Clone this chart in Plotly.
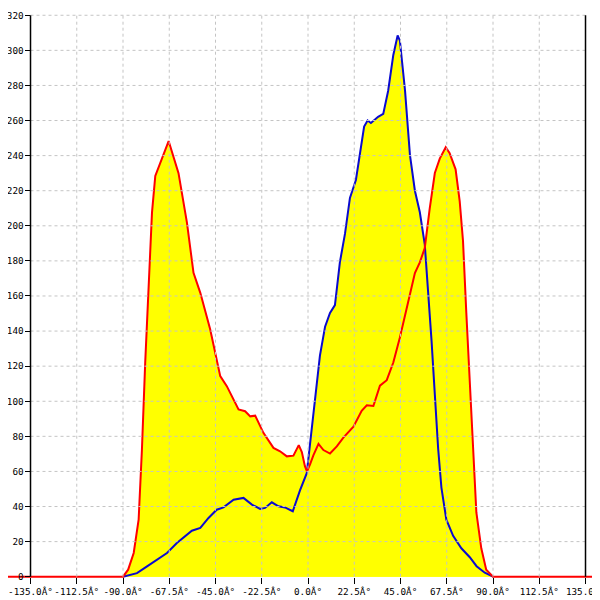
import plotly.graph_objects as go

# x ticks are degrees, labels keep the odd encoding seen on the chart
x_ticks = [-135, -112.5, -90, -67.5, -45, -22.5, 0, 22.5, 45, 67.5, 90, 112.5, 135]
x_labels = [f"{v:.1f}Â°" for v in x_ticks]
y_ticks = list(range(0, 321, 20))

red_x = [-150, -135, -90, -87.5, -84.8, -82.4, -80.8, -79.2, -77.5, -75.9, -74.3, -71.9,
         -67.8, -63, -58.9, -55.7, -52.4, -47.6, -42.7, -39.5, -33.8, -30.6, -28.1,
         -25.7, -21.7, -16.8, -13.6, -10.3, -7.1, -4.5, -3.0, -1.5, -0.5, 1.0, 2.6,
         5.1, 7.5, 10.7, 14, 17.2, 22.1, 26.1, 28.6, 31.8, 35, 38.3, 41.5, 44.7, 48,
         52, 54.4, 56.8, 59.2, 61.7, 64.1, 67, 68.9, 71.8, 73.8, 75.4, 77, 78.7,
         80.3, 81.9, 84.3, 86.7, 90, 135, 150]
red_y = [0, 0, 0, 4, 13.5, 32.5, 72.4, 122, 169.4, 207.5, 228.4, 236,
         248.3, 230, 201.8, 173.2, 161.8, 141, 114.3, 108.6, 95.3, 94.3, 91.4,
         91.8, 82, 73.4, 71.5, 68.6, 69, 75, 71, 63, 60, 64, 69.2,
         75.7, 72.2, 70.2, 74.3, 79.3, 85.5, 94.6, 97.7, 97.3, 108.9, 112, 122.1, 136.4, 152.7,
         173.1, 179.2, 187.3, 209.8, 230.1, 238.3, 244.8, 241.4, 232.2, 213.9, 191.5, 150.7, 109.9,
         69.2, 36.6, 16.2, 4, 0, 0, 0]

blue_x = [-90, -83.2, -78.3, -73.5, -68.6, -63.8, -59.7, -56.5, -52.4, -48.4, -44.4,
          -41.1, -36.2, -31.4, -27.3, -23.3, -20.9, -17.6, -14.4, -11.2, -7.4, -3.9,
          -0.6, 1.0, 3.4, 5.8, 8.3, 10.7, 13.1, 15.5, 18, 20.4, 23.3, 25.2, 27.3, 29,
          30.6, 34.1, 36.6, 39, 41.5, 43.6, 44.7, 47.2, 49.6, 52, 54.4, 56.8, 58.4,
          60.1, 61.7, 63.3, 64.9, 67.3, 70.6, 74.6, 78.7, 82, 86, 90]
blue_y = [0, 2, 5.9, 9.7, 13.5, 19.2, 23, 26.2, 27.8, 33.5, 38.2,
          39.5, 43.9, 44.9, 41.1, 38.6, 39.2, 42.4, 40.1, 39.5, 37.3, 49.2,
          59, 76, 101, 126, 142.5, 150.3, 154.8, 179.2, 195.5, 215.9, 226.1, 240.3, 256.6, 260,
          258.6, 262.1, 263.8, 277, 297.4, 308.5, 305.5, 277, 240.3, 220, 207.7, 189.4, 165,
          134.4, 103.8, 73.2, 50.8, 32.5, 23.3, 16.2, 11.1, 6, 2.3, 0]

FILL = '#ffff00'
GRID = '#c4c4c4'

fig = go.Figure()

# fills first so both lines stay on top of both areas
for xs, ys in [(blue_x, blue_y), (red_x, red_y)]:
    fig.add_trace(go.Scatter(x=xs, y=ys, mode='lines', fill='tozeroy',
                             fillcolor=FILL, line=dict(width=0), hoverinfo='skip'))

fig.add_trace(go.Scatter(x=blue_x, y=blue_y, mode='lines',
                         line=dict(color='#0a0ad0', width=2)))
fig.add_trace(go.Scatter(x=red_x, y=red_y, mode='lines',
                         line=dict(color='#ff0000', width=2)))

# dashed grid above the yellow areas
for v in x_ticks[1:-1]:
    fig.add_shape(type='line', x0=v, x1=v, y0=0, y1=320, layer='above',
                  line=dict(color=GRID, width=1, dash='3px,3px'))
for v in y_ticks[1:]:
    fig.add_shape(type='line', x0=-135, x1=135, y0=v, y1=v, layer='above',
                  line=dict(color=GRID, width=1, dash='3px,3px'))

# axis line on the left and border on the right
for v in [-135, 135]:
    fig.add_shape(type='line', x0=v, x1=v, y0=0, y1=320, layer='above',
                  line=dict(color='black', width=1.5))

# page body adds ~8px offset, so the plot area is shifted up/left by that much
fig.update_layout(
    width=600, height=600,
    margin=dict(l=0, r=8, t=2, b=23),
    paper_bgcolor='white', plot_bgcolor='white',
    showlegend=False,
    font=dict(family='DejaVu Sans Mono', size=9.3, color='black'),
    xaxis=dict(range=[-145.95, 142.05], tickvals=x_ticks, ticktext=x_labels,
               tickangle=0, automargin=False, ticklabeloverflow='allow',
               showgrid=False, zeroline=False, showline=False,
               ticks='outside', ticklen=6, tickcolor='black',
               anchor='free', position=0.0144),
    yaxis=dict(range=[-4.73, 323.0], tickvals=y_ticks, automargin=False,
               showgrid=False, zeroline=False, showline=False,
               ticks='outside', ticklen=5, tickcolor='black',
               anchor='free', position=0.038),
)

fig.write_html("out.html")
